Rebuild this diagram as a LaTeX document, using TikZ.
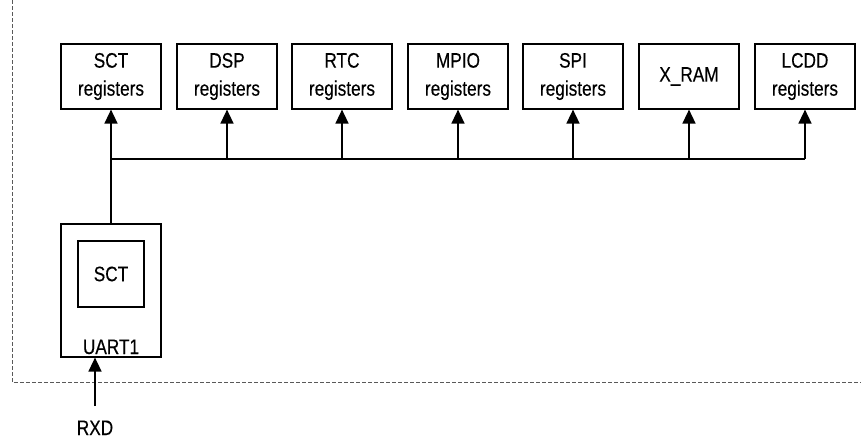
\documentclass[tikz,border=0pt]{standalone}
\usepackage{fontspec}
\setmainfont{Liberation Sans}[FakeStretch=0.82,FakeBold=0.3]
\usetikzlibrary{arrows.meta}
\begin{document}
\begin{tikzpicture}[x=1pt,y=-1pt,
  regbox/.style={draw,line width=1.2pt,minimum width=100pt,minimum height=65pt,inner sep=0pt,align=center,font=\fontsize{21}{28}\selectfont},
  conn/.style={line width=1.5pt},
  arr/.style={conn,-{Triangle[length=14pt,width=13pt]}},
  frame/.style={dash pattern=on 4pt off 2pt,line width=0.9pt,draw=black!65},
  lbl/.style={inner sep=0pt,font=\fontsize{21}{28}\selectfont}
]
\useasboundingbox (0,0) rectangle (861,439);
\draw[frame] (12,0) -- (12,382) -- (861,382);
\node[regbox] (r1) at (111,76.5) {SCT\\registers};
\node[regbox] (r2) at (227,76.5) {DSP\\registers};
\node[regbox] (r3) at (342,76.5) {RTC\\registers};
\node[regbox] (r4) at (458,76.5) {MPIO\\registers};
\node[regbox] (r5) at (573,76.5) {SPI\\registers};
\node[regbox] (r6) at (689,76.5) {X\_RAM};
\node[regbox] (r7) at (805,76.5) {LCDD\\registers};
\node[draw,line width=1.2pt,minimum width=100pt,minimum height=133pt,inner sep=0pt] (uart) at (111,290.5) {};
\node[regbox,minimum width=66pt,minimum height=66pt] (sct) at (111,274) {SCT};
\node[lbl,anchor=base] (ulbl) at (111,354) {UART1};
\coordinate (bus) at (111,159);
\draw[conn] (r1.south |- bus) -- (r7.south |- bus);
\draw[arr] (uart.north) -- (r1.south);
\foreach \i in {2,...,7} \draw[arr] (r\i.south |- bus) -- (r\i.south);
\node[lbl,anchor=base] (rxd) at (95,435) {RXD};
\coordinate (rxdstart) at (95,406);
\draw[arr] (rxdstart) -- (rxdstart |- uart.south);
\end{tikzpicture}
\end{document}
